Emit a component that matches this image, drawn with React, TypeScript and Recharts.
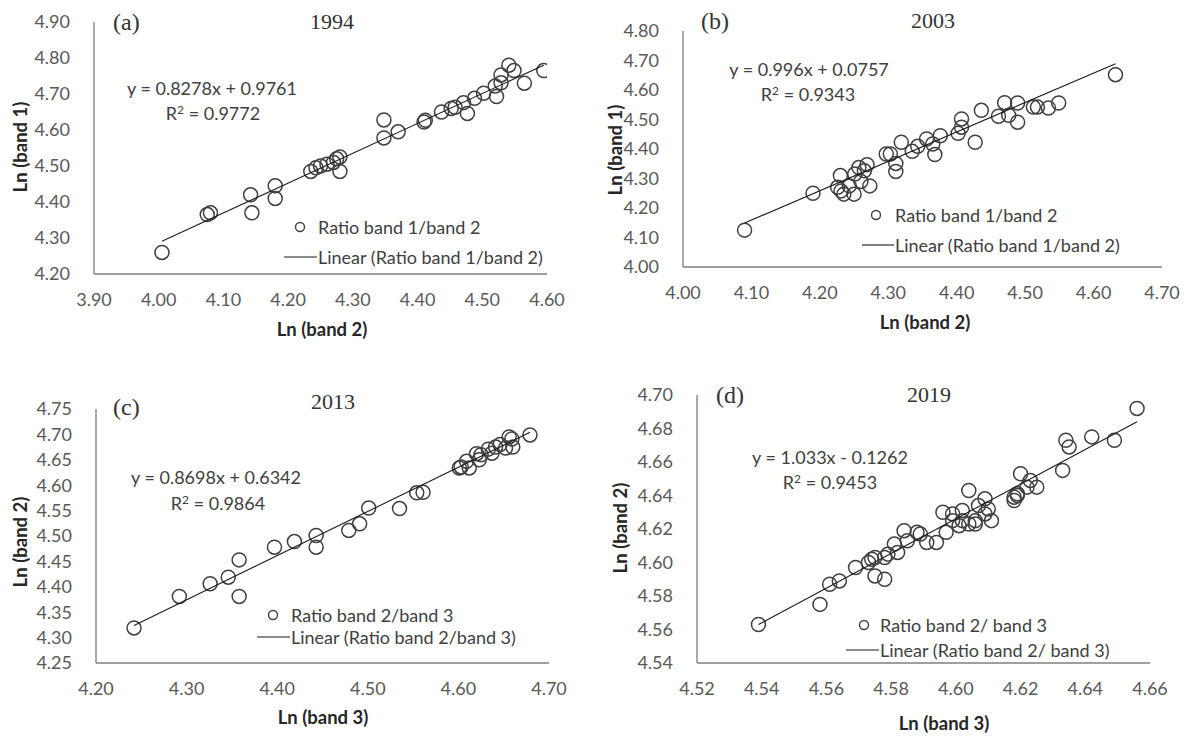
import React from "react";
import { ScatterChart, Scatter, XAxis, YAxis } from "recharts";

// (a) 1994: Ln(band 2) on x, Ln(band 1) on y
const band2_1994 = [4.005, 4.08, 4.075, 4.142, 4.144, 4.18, 4.18, 4.235, 4.243, 4.25, 4.26, 4.27, 4.275, 4.28, 4.28, 4.348, 4.348, 4.37, 4.41, 4.412, 4.437, 4.452, 4.458, 4.471, 4.477, 4.488, 4.502, 4.522, 4.52, 4.529, 4.529, 4.541, 4.549, 4.565, 4.595];
const band1_1994 = [4.26, 4.37, 4.365, 4.42, 4.37, 4.445, 4.41, 4.485, 4.495, 4.5, 4.505, 4.51, 4.52, 4.525, 4.485, 4.578, 4.628, 4.595, 4.622, 4.627, 4.65, 4.66, 4.663, 4.676, 4.646, 4.688, 4.702, 4.693, 4.722, 4.731, 4.753, 4.78, 4.765, 4.73, 4.765];
const trendX_1994 = [4.005, 4.595];
const trendY_1994 = [4.291, 4.78];
const xTicks_1994 = [3.9, 4.0, 4.1, 4.2, 4.3, 4.4, 4.5, 4.6];
const yTicks_1994 = [4.2, 4.3, 4.4, 4.5, 4.6, 4.7, 4.8, 4.9];

// (b) 2003
const band2_2003 = [4.09, 4.19, 4.23, 4.226, 4.231, 4.235, 4.243, 4.25, 4.251, 4.257, 4.265, 4.269, 4.273, 4.26, 4.297, 4.303, 4.311, 4.311, 4.319, 4.335, 4.343, 4.356, 4.365, 4.368, 4.376, 4.402, 4.407, 4.407, 4.427, 4.436, 4.461, 4.47, 4.476, 4.489, 4.489, 4.512, 4.518, 4.534, 4.549, 4.632];
const band1_2003 = [4.125, 4.25, 4.31, 4.27, 4.258, 4.247, 4.275, 4.247, 4.315, 4.337, 4.326, 4.347, 4.275, 4.29, 4.383, 4.383, 4.351, 4.324, 4.423, 4.392, 4.409, 4.434, 4.417, 4.381, 4.445, 4.453, 4.474, 4.502, 4.423, 4.531, 4.511, 4.557, 4.514, 4.556, 4.491, 4.542, 4.542, 4.539, 4.556, 4.652];
const trendX_2003 = [4.09, 4.632];
const trendY_2003 = [4.149, 4.689];
const xTicks_2003 = [4.0, 4.1, 4.2, 4.3, 4.4, 4.5, 4.6, 4.7];
const yTicks_2003 = [4.0, 4.1, 4.2, 4.3, 4.4, 4.5, 4.6, 4.7, 4.8];

// (c) 2013: Ln(band 3) on x, Ln(band 2) on y
const band3_2013 = [4.242, 4.292, 4.326, 4.346, 4.358, 4.358, 4.397, 4.419, 4.443, 4.443, 4.479, 4.491, 4.501, 4.535, 4.554, 4.561, 4.601, 4.603, 4.609, 4.612, 4.62, 4.623, 4.625, 4.633, 4.637, 4.641, 4.646, 4.652, 4.656, 4.659, 4.66, 4.679];
const band2_2013 = [4.319, 4.381, 4.406, 4.419, 4.453, 4.381, 4.478, 4.489, 4.501, 4.478, 4.511, 4.524, 4.555, 4.554, 4.585, 4.586, 4.634, 4.636, 4.647, 4.634, 4.662, 4.65, 4.66, 4.671, 4.663, 4.675, 4.68, 4.673, 4.695, 4.691, 4.675, 4.699];
const trendX_2013 = [4.242, 4.679];
const trendY_2013 = [4.324, 4.704];
const xTicks_2013 = [4.2, 4.3, 4.4, 4.5, 4.6, 4.7];
const yTicks_2013 = [4.25, 4.3, 4.35, 4.4, 4.45, 4.5, 4.55, 4.6, 4.65, 4.7, 4.75];

// (d) 2019
const band3_2019 = [4.539, 4.558, 4.561, 4.564, 4.569, 4.573, 4.574, 4.575, 4.575, 4.578, 4.578, 4.579, 4.581, 4.582, 4.584, 4.585, 4.588, 4.589, 4.591, 4.594, 4.596, 4.597, 4.599, 4.599, 4.601, 4.602, 4.602, 4.604, 4.604, 4.606, 4.606, 4.607, 4.609, 4.609, 4.61, 4.611, 4.618, 4.618, 4.619, 4.62, 4.619, 4.622, 4.623, 4.625, 4.633, 4.634, 4.635, 4.642, 4.649, 4.656];
const band2_2019 = [4.563, 4.575, 4.587, 4.589, 4.597, 4.6, 4.602, 4.603, 4.592, 4.59, 4.603, 4.605, 4.611, 4.606, 4.619, 4.613, 4.618, 4.617, 4.612, 4.612, 4.63, 4.618, 4.629, 4.625, 4.622, 4.631, 4.625, 4.623, 4.643, 4.623, 4.625, 4.634, 4.638, 4.629, 4.632, 4.625, 4.639, 4.637, 4.64, 4.653, 4.641, 4.645, 4.649, 4.645, 4.655, 4.673, 4.669, 4.675, 4.673, 4.692];
const trendX_2019 = [4.539, 4.656];
const trendY_2019 = [4.563, 4.684];
const xTicks_2019 = [4.52, 4.54, 4.56, 4.58, 4.6, 4.62, 4.64, 4.66];
const yTicks_2019 = [4.54, 4.56, 4.58, 4.6, 4.62, 4.64, 4.66, 4.68, 4.7];

const SANS = "Lato, 'Open Sans', sans-serif";
const SERIF = "'Liberation Serif', 'DejaVu Serif', serif";
const TICK = "#595959";
const AXIS = "#7f7f7f";
const MARK = "#404040";
const FS = 18;
const Y_W = 80;
const X_H = 50;
const T_PAD = 20;
const R_PAD = 35;

const zip = (xs: number[], ys: number[]) => xs.map((x, i) => ({ x, y: ys[i] }));

const panels = [
  {
    tag: "(a)", year: "1994", xs: band2_1994, ys: band1_1994, tx: trendX_1994, ty: trendY_1994,
    xTicks: xTicks_1994, yTicks: yTicks_1994, xTitle: "Ln (band 2)", yTitle: "Ln (band 1)",
    eq: "y = 0.8278x + 0.9761", r2: "0.9772", legend: "Ratio band 1/band 2",
    plot: { x: 94, y: 22, w: 453, h: 252 },
    tagPos: [113, 22], yearPos: [332, 22], eqPos: [212, 88], r2Pos: [213, 113],
    xTitlePos: [322, 329], yTitlePos: [20, 147], legPos: [300, 227, 257], legLine: [284, 317],
  },
  {
    tag: "(b)", year: "2003", xs: band2_2003, ys: band1_2003, tx: trendX_2003, ty: trendY_2003,
    xTicks: xTicks_2003, yTicks: yTicks_2003, xTitle: "Ln (band 2)", yTitle: "Ln (band 1)",
    eq: "y = 0.996x + 0.0757", r2: "0.9343", legend: "Ratio band 1/band 2",
    plot: { x: 683, y: 31, w: 479, h: 236 },
    tagPos: [701, 21], yearPos: [933, 21], eqPos: [809, 69], r2Pos: [808, 94],
    xTitlePos: [925, 322], yTitlePos: [615, 150], legPos: [876, 215, 245], legLine: [862, 894],
  },
  {
    tag: "(c)", year: "2013", xs: band3_2013, ys: band2_2013, tx: trendX_2013, ty: trendY_2013,
    xTicks: xTicks_2013, yTicks: yTicks_2013, xTitle: "Ln (band 3)", yTitle: "Ln (band 2)",
    eq: "y = 0.8698x + 0.6342", r2: "0.9864", legend: "Ratio band 2/band 3",
    plot: { x: 96, y: 409, w: 453, h: 254 },
    tagPos: [113, 407], yearPos: [333, 402], eqPos: [216, 477], r2Pos: [218, 503],
    xTitlePos: [323, 717], yTitlePos: [20, 542], legPos: [273, 615, 637], legLine: [257, 290],
  },
  {
    tag: "(d)", year: "2019", xs: band3_2019, ys: band2_2019, tx: trendX_2019, ty: trendY_2019,
    xTicks: xTicks_2019, yTicks: yTicks_2019, xTitle: "Ln (band 3)", yTitle: "Ln (band 2)",
    eq: "y = 1.033x - 0.1262", r2: "0.9453", legend: "Ratio band 2/ band 3",
    plot: { x: 697, y: 395, w: 453, h: 268 },
    tagPos: [716, 395], yearPos: [929, 395], eqPos: [830, 457], r2Pos: [830, 482],
    xTitlePos: [944, 723], yTitlePos: [620, 528], legPos: [864, 625, 650], legLine: [846, 879],
  },
];

const Ring = (props: any) => (
  <circle cx={props.cx} cy={props.cy} r={7} fill="none" stroke={MARK} strokeWidth={1.5} />
);

const centered = (x: number, y: number): React.CSSProperties => ({
  position: "absolute", left: x, top: y, transform: "translate(-50%, -50%)",
  whiteSpace: "nowrap", lineHeight: 1,
});

const textStyle: React.CSSProperties = { fontFamily: SANS, fontSize: FS, color: "#404040" };
const titleStyle: React.CSSProperties = { fontFamily: SANS, fontSize: 18.5, fontWeight: 700, color: "#262626" };

function Panel({ p }: { p: (typeof panels)[number] }) {
  const pts = zip(p.xs, p.ys);
  const trend = zip(p.tx, p.ty);
  const xd = [p.xTicks[0], p.xTicks[p.xTicks.length - 1]];
  const yd = [p.yTicks[0], p.yTicks[p.yTicks.length - 1]];
  const fmt = (v: number) => v.toFixed(2);
  const [lx, ly1, ly2] = p.legPos;
  return (
    <>
      <div style={{ position: "absolute", left: p.plot.x - Y_W, top: p.plot.y - T_PAD }}>
        <ScatterChart
          width={p.plot.w + Y_W + R_PAD}
          height={p.plot.h + T_PAD + X_H}
          margin={{ top: T_PAD, right: R_PAD, bottom: 0, left: 0 }}
        >
          <XAxis
            type="number" dataKey="x" domain={xd} ticks={p.xTicks} interval={0}
            tickFormatter={fmt} tickLine={false} tickMargin={13} height={X_H}
            axisLine={{ stroke: AXIS, strokeWidth: 1.3 }}
            tick={{ fill: TICK, fontSize: FS, fontFamily: SANS }}
            allowDataOverflow
          />
          <YAxis
            type="number" dataKey="y" domain={yd} ticks={p.yTicks} interval={0}
            tickFormatter={fmt} tickLine={false} tickMargin={18} width={Y_W}
            axisLine={{ stroke: AXIS, strokeWidth: 1.3 }}
            tick={{ fill: TICK, fontSize: FS, fontFamily: SANS }}
            allowDataOverflow
          />
          <Scatter data={pts} shape={Ring} isAnimationActive={false} />
          <Scatter
            data={trend} line={{ stroke: "#1a1a1a", strokeWidth: 1.1 }}
            shape={() => <g />} isAnimationActive={false}
          />
        </ScatterChart>
      </div>
      <div style={{ position: "absolute", left: p.tagPos[0], top: p.tagPos[1], transform: "translateY(-50%)", fontFamily: SERIF, fontSize: 24, color: "#333", lineHeight: 1 }}>
        {p.tag}
      </div>
      <div style={{ ...centered(p.yearPos[0], p.yearPos[1]), fontFamily: SERIF, fontSize: 22, color: "#333" }}>
        {p.year}
      </div>
      <div style={{ ...centered(p.eqPos[0], p.eqPos[1]), ...textStyle }}>{p.eq}</div>
      <div style={{ ...centered(p.r2Pos[0], p.r2Pos[1]), ...textStyle }}>
        R<span style={{ fontSize: 12, verticalAlign: "6px" }}>2</span> = {p.r2}
      </div>
      <div style={{ ...centered(p.xTitlePos[0], p.xTitlePos[1]), ...titleStyle }}>{p.xTitle}</div>
      <div style={{ ...centered(p.yTitlePos[0], p.yTitlePos[1]), transform: "translate(-50%, -50%) rotate(-90deg)", ...titleStyle }}>
        {p.yTitle}
      </div>
      <svg style={{ position: "absolute", left: 0, top: 0, overflow: "visible" }} width={1} height={1}>
        <circle cx={lx} cy={ly1} r={4.5} fill="none" stroke={MARK} strokeWidth={1.4} />
        <line x1={p.legLine[0]} x2={p.legLine[1]} y1={ly2} y2={ly2} stroke="#1a1a1a" strokeWidth={1.1} />
      </svg>
      <div style={{ position: "absolute", left: p.legLine[1] + 1, top: ly1, transform: "translateY(-50%)", ...textStyle, lineHeight: 1, whiteSpace: "nowrap" }}>
        {p.legend}
      </div>
      <div style={{ position: "absolute", left: p.legLine[1] + 1, top: ly2, transform: "translateY(-50%)", ...textStyle, lineHeight: 1, whiteSpace: "nowrap" }}>
        Linear ({p.legend})
      </div>
    </>
  );
}

export default function App() {
  return (
    <div style={{ position: "absolute", left: 0, top: 0, width: 1191, height: 736, background: "#fff", overflow: "hidden" }}>
      {panels.map((p) => (
        <Panel key={p.year} p={p} />
      ))}
    </div>
  );
}
